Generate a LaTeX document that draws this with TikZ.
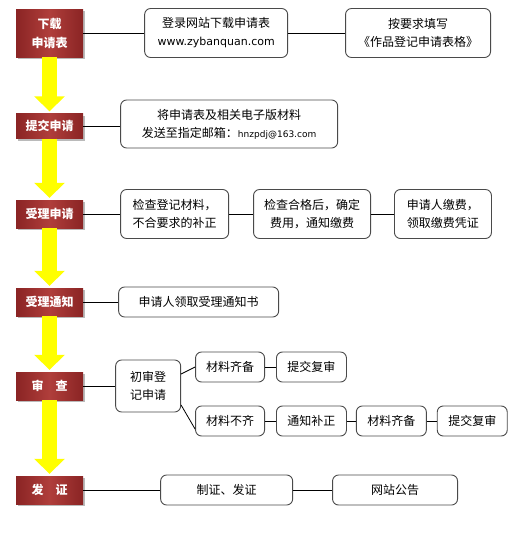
\documentclass[tikz,border=0pt]{standalone}
\usepackage{fontspec}
\setmainfont{Noto Sans CJK SC}
\newfontfamily\latfont{DejaVu Sans}
\usetikzlibrary{arrows.meta,positioning,shadows}
\definecolor{stepred}{HTML}{8A2424}
\definecolor{steplight}{HTML}{B03E3B}
\definecolor{framegray}{HTML}{4A4A4A}
\definecolor{flowyellow}{HTML}{FFFF00}

\begin{document}
\begin{tikzpicture}[
    x=1pt, y=1pt,
    font=\fontsize{12}{18}\selectfont,
    stepbox/.style={
      left color=stepred, right color=stepred, middle color=steplight,
      minimum width=67pt, minimum height=28pt,
      text=white, font=\fontsize{12}{19}\selectfont\bfseries,
      align=center, inner sep=0pt,
      drop shadow={shadow xshift=1.5pt, shadow yshift=-2pt, fill=black!45, opacity=0.6}
    },
    infobox/.style={
      draw=framegray, line width=0.9pt, fill=white,
      rounded corners=6pt,
      minimum height=30pt,
      inner sep=0pt,
      align=center
    },
    link/.style={draw=black, line width=0.8pt},
    flow/.style={draw=flowyellow, line width=15pt,
      -{Triangle[width=30pt, length=15pt]}, shorten >=2pt}
  ]
    \useasboundingbox (0,0) rectangle (519,-538);

    \node[stepbox, minimum height=48pt] (apply) at (49.5,-33) {下载\\申请表};
    \node[stepbox, minimum height=25pt] (submit) at (49.5,-126) {提交申请};
    \node[stepbox] (accept) at (49.5,-214) {受理申请};
    \node[stepbox] (notice) at (49.5,-302) {受理通知};
    \node[stepbox] (review) at (49.5,-386) {审\quad 查};
    \node[stepbox] (issue) at (49.5,-490) {发\quad 证};

    \node[infobox, minimum width=143pt, minimum height=49pt, right=61pt of apply]
      (site) {登录网站下载申请表\\{\latfont\fontsize{11}{18}\selectfont www.zybanquan.com}};
    \node[infobox, minimum width=145pt, minimum height=49pt, right=57pt of site]
      (fill) {按要求填写\\《作品登记申请表格》};

    \node[infobox, minimum width=217pt, minimum height=48pt, right=37pt of submit, yshift=2pt]
      (mail) {将申请表及相关电子版材料\\发送至指定邮箱：{\latfont\fontsize{9}{18}\selectfont hnzpdj@163.com}};

    \node[infobox, minimum width=108pt, minimum height=49pt, right=37pt of accept]
      (check) {检查登记材料，\\不合要求的补正};
    \node[infobox, minimum width=117pt, minimum height=49pt, right=24pt of check]
      (fee) {检查合格后，确定\\费用，通知缴费};
    \node[infobox, minimum width=97pt, minimum height=49pt, right=23pt of fee]
      (pay) {申请人缴费，\\领取缴费凭证};

    \node[infobox, minimum width=160pt, right=35pt of notice] (receipt) {申请人领取受理通知书};

    \node[infobox, minimum width=65pt, minimum height=52pt, right=32pt of review]
      (first) {初审登\\记申请};
    \node[infobox, minimum width=69pt, right=14pt of first, yshift=19pt] (okA) {材料齐备};
    \node[infobox, minimum width=70pt, right=11pt of okA] (againA) {提交复审};
    \node[infobox, minimum width=69pt, right=14pt of first, yshift=-35pt] (lack) {材料不齐};
    \node[infobox, minimum width=70pt, right=11pt of lack] (correct) {通知补正};
    \node[infobox, minimum width=70pt, right=9pt of correct] (okB) {材料齐备};
    \node[infobox, minimum width=70pt, right=10pt of okB] (againB) {提交复审};

    \node[infobox, minimum width=132pt, right=77pt of issue] (make) {制证、发证};
    \node[infobox, minimum width=125pt, right=39pt of make] (publish) {网站公告};

    \draw[link] (apply) -- (site) -- (fill);
    \draw[link] (submit) -- (submit -| mail.west);
    \draw[link] (accept) -- (check) -- (fee) -- (pay);
    \draw[link] (notice) -- (receipt);
    \draw[link] (review) -- (first);
    \draw[link] (first.20) -- (okA.west);
    \draw[link] (okA) -- (againA);
    \draw[link] (first.-30) -- (lack.193);
    \draw[link] (lack) -- (correct) -- (okB) -- (againB);
    \draw[link] (issue) -- (make) -- (publish);

    \foreach \a/\b in {apply/submit, submit/accept, accept/notice, notice/review, review/issue}
      \draw[flow] (\a.south) -- (\b.north);
  \end{tikzpicture}
\end{document}
